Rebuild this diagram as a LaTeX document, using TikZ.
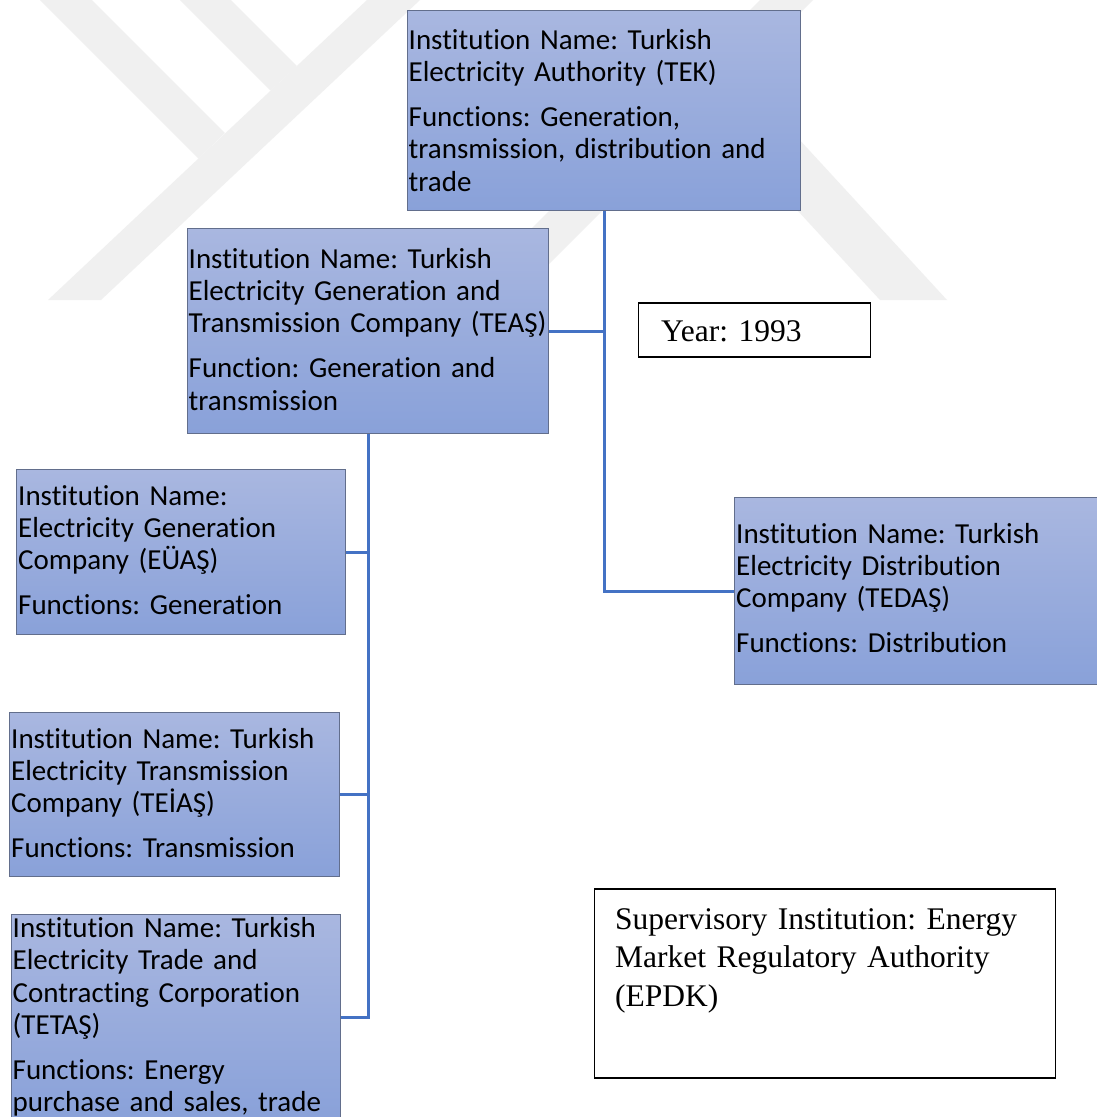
\documentclass[tikz,border=0pt]{standalone}
\usepackage{fontspec}
\setmainfont{Carlito}[RawFeature={-liga}]
\newfontfamily\timesf{Liberation Serif}
\usetikzlibrary{backgrounds}
\frenchspacing
\definecolor{wm}{RGB}{240,240,240}
\definecolor{boxtop}{RGB}{169,183,224}
\definecolor{boxbot}{RGB}{137,161,217}
\definecolor{boxline}{RGB}{98,110,140}
\definecolor{conncol}{RGB}{68,114,196}
\tikzset{
 orgbox/.style={draw=boxline, line width=1.2pt, top color=boxtop, bottom color=boxbot, rectangle, anchor=north west, inner sep=0pt},
 orgtext/.style={anchor=base west, inner sep=0pt, text width=420pt, align=left, font={\frenchspacing\fontsize{29pt}{32.3pt}\selectfont}},
 plainbox/.style={draw=black, line width=1.6pt, fill=white, rectangle, anchor=north west, inner sep=0pt},
 serift/.style={anchor=base west, inner sep=0pt, text width=450pt, align=left, font={\frenchspacing\timesf\fontsize{31.5pt}{38.6pt}\selectfont}},
 conn/.style={draw=conncol, line width=2.8pt},
 wmark/.style={fill=wm, draw=none},
}
\begin{document}
\begin{tikzpicture}[x=1pt,y=-1pt]
\useasboundingbox (0,0) rectangle (1097,1117);

% boxes
\node[orgbox, minimum width=393pt, minimum height=200pt] (tek) at (407,10) {};
\node[orgtext] (tekT) at (408.5,49.3) {Institution Name: Turkish\\ Electricity Authority (TEK)\\[12.7pt] Functions: Generation,\\ transmission, distribution and\\ trade};

\node[orgbox, minimum width=361pt, minimum height=205pt] (teas) at (187,228) {};
\node[orgtext] (teasT) at (188.5,268.3) {Institution Name: Turkish\\ Electricity Generation and\\ Transmission Company (TEAŞ)\\[12.7pt] Function: Generation and\\ transmission};

\node[orgbox, minimum width=329pt, minimum height=165pt] (euas) at (16,469) {};
\node[orgtext] (euasT) at (18,505.3) {Institution Name:\\ Electricity Generation\\ Company (EÜAŞ)\\[12.7pt] Functions: Generation};

\node[orgbox, minimum width=330pt, minimum height=164pt] (teias) at (9,712) {};
\node[orgtext] (teiasT) at (11,748) {Institution Name: Turkish\\ Electricity Transmission\\ Company (TEİAŞ)\\[12.7pt] Functions: Transmission};

\node[orgbox, minimum width=329pt, minimum height=206pt] (tetas) at (11,914) {};
\node[orgtext] (tetasT) at (12.5,937.5) {Institution Name: Turkish\\ Electricity Trade and\\ Contracting Corporation\\ (TETAŞ)\\[12.7pt] Functions: Energy\\ purchase and sales, trade};

\node[orgbox, minimum width=370pt, minimum height=187pt] (tedas) at (734,497) {};
\node[orgtext] (tedasT) at (736,543) {Institution Name: Turkish\\ Electricity Distribution\\ Company (TEDAŞ)\\[12.7pt] Functions: Distribution};

\node[plainbox, minimum width=232pt, minimum height=54pt] (year) at (637.5,302) {};
\node[serift] (yearT) at (661,341.7) {Year: 1993};

\node[plainbox, minimum width=461pt, minimum height=189pt] (sup) at (593.5,888) {};
\node[serift] (supT) at (615,929.3) {Supervisory Institution: Energy\\ Market Regulatory Authority\\ (EPDK)};

\begin{scope}[on background layer]
 \fill[white] (0,0) rectangle (1097,1117);
 % watermark
 \fill[wmark] (367,0) -- (420,0) -- (101,300) -- (48,300) -- cycle;
 \fill[wmark] (40,0) -- (92,0) -- (225,133) -- (198.5,158.5) -- cycle;
 \fill[wmark] (180,0) -- (231,0) -- (297,66) -- (270.6,90.6) -- cycle;
 \fill[wmark] (760,0) -- (813,0) -- (513,300) -- (460,300) -- cycle;
 \fill[wmark] (704,109) -- (739,74) -- (947,300) -- (880,300) -- cycle;
 % connectors
 \draw[conn] (tek.south) |- (tedas.west);
 \draw[conn] (teas.east) -- (teas.east -| tek.south);
 \draw[conn] (teas.south) |- (tetas.east);
 \draw[conn] (euas.east) -- (euas.east -| teas.south);
 \draw[conn] (teias.east) -- (teias.east -| teas.south);
\end{scope}
\end{tikzpicture}
\end{document}
